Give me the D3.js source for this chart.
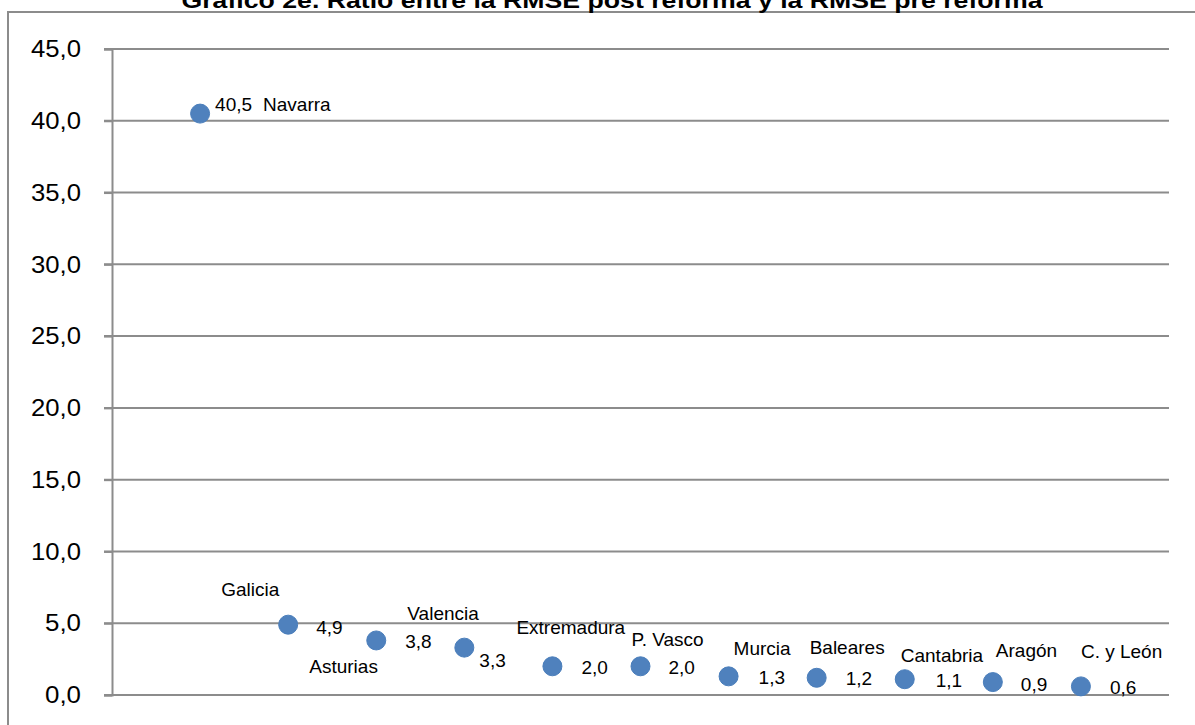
<!DOCTYPE html>
<html><head><meta charset="utf-8">
<script src="https://cdn.jsdelivr.net/npm/d3@7/dist/d3.min.js"></script>
<style>body{margin:0;background:#fff}svg{display:block}</style>
</head><body>
<svg id="c" width="1195" height="725"></svg>
<script>
const title = "Gráfico 2e. Ratio entre la RMSE post reforma y la RMSE pre reforma";
const regions = ["Navarra","Galicia","Asturias","Valencia","Extremadura","P. Vasco","Murcia","Baleares","Cantabria","Aragón","C. y León"];
const ratios = [40.5,4.9,3.8,3.3,2.0,2.0,1.3,1.2,1.1,0.9,0.6];
const xPositions = [1,2,3,4,5,6,7,8,9,10,11];
const yTicks = [0,5,10,15,20,25,30,35,40,45];

// label layout (offsets from marker centre, px)
const valueOffsets = [[15,-3],[28,9],[29,8],[15,19],[29,8],[28,8],[30,8],[29,7],[31,8],[28,9],[29,8]];
const nameOffsets  = [[63,-3],[-67,-29],[-67,33],[-57,-28],[-36,-32],[-9,-20],[5,-21],[-7,-24],[-4,-17],[3,-25],[0,-28]];

const loc = d3.formatLocale({decimal:",", thousands:".", grouping:[3], currency:["","€"]});
const f1 = loc.format(".1f");

const svg = d3.select("#c");
const font = "'Liberation Sans', Arial, sans-serif";

// outer chart border
svg.append("rect").attr("x",8).attr("y",12).attr("width",1300).attr("height",800)
  .attr("fill","none").attr("stroke","#8c8c8c").attr("stroke-width",2);

// title (clipped at top, as in the source)
svg.append("text").attr("x",612).attr("y",8).attr("text-anchor","middle")
  .attr("font-family",font).attr("font-weight","bold").attr("font-size",22)
  .attr("textLength",861).attr("lengthAdjust","spacingAndGlyphs")
  .text(title);

const x = d3.scaleLinear().domain([0,12]).range([112,1169]);
const y = d3.scaleLinear().domain([0,45]).range([695,49]);

// gridlines
svg.append("g").selectAll("line").data(yTicks).join("line")
  .attr("x1",104).attr("x2",1169)
  .attr("y1",d=>y(d)).attr("y2",d=>y(d))
  .attr("stroke","#8c8c8c").attr("stroke-width",2);

// y axis
const ax = svg.append("g").attr("transform","translate(112,0)")
  .call(d3.axisLeft(y).tickValues(yTicks).tickFormat(f1).tickSize(8).tickPadding(23));
ax.select(".domain").attr("stroke","#8c8c8c").attr("stroke-width",2);
ax.selectAll(".tick line").attr("stroke","#8c8c8c").attr("stroke-width",2);
ax.selectAll(".tick text").attr("font-family",font).attr("font-size",24).attr("fill","#000")
  .attr("textLength",50).attr("lengthAdjust","spacingAndGlyphs");
ax.selectAll(".tick text").filter(d=>d<10).attr("textLength",36);

const pts = regions.map((r,i)=>({name:r, v:ratios[i], xp:xPositions[i], vo:valueOffsets[i], no:nameOffsets[i]}));

// markers
svg.append("g").selectAll("circle").data(pts).join("circle")
  .attr("cx",d=>x(d.xp)).attr("cy",d=>y(d.v)).attr("r",9.5)
  .attr("fill","#4F81BD").attr("stroke","#4A7EBB").attr("stroke-width",1);

// value labels
svg.append("g").selectAll("text").data(pts).join("text")
  .attr("x",d=>x(d.xp)+d.vo[0]).attr("y",d=>y(d.v)+d.vo[1])
  .attr("font-family",font).attr("font-size",19).attr("fill","#000")
  .text(d=>f1(d.v));

// name labels
svg.append("g").selectAll("text").data(pts).join("text")
  .attr("x",d=>x(d.xp)+d.no[0]).attr("y",d=>y(d.v)+d.no[1])
  .attr("font-family",font).attr("font-size",19).attr("fill","#000")
  .text(d=>d.name);
</script>
</body></html>
